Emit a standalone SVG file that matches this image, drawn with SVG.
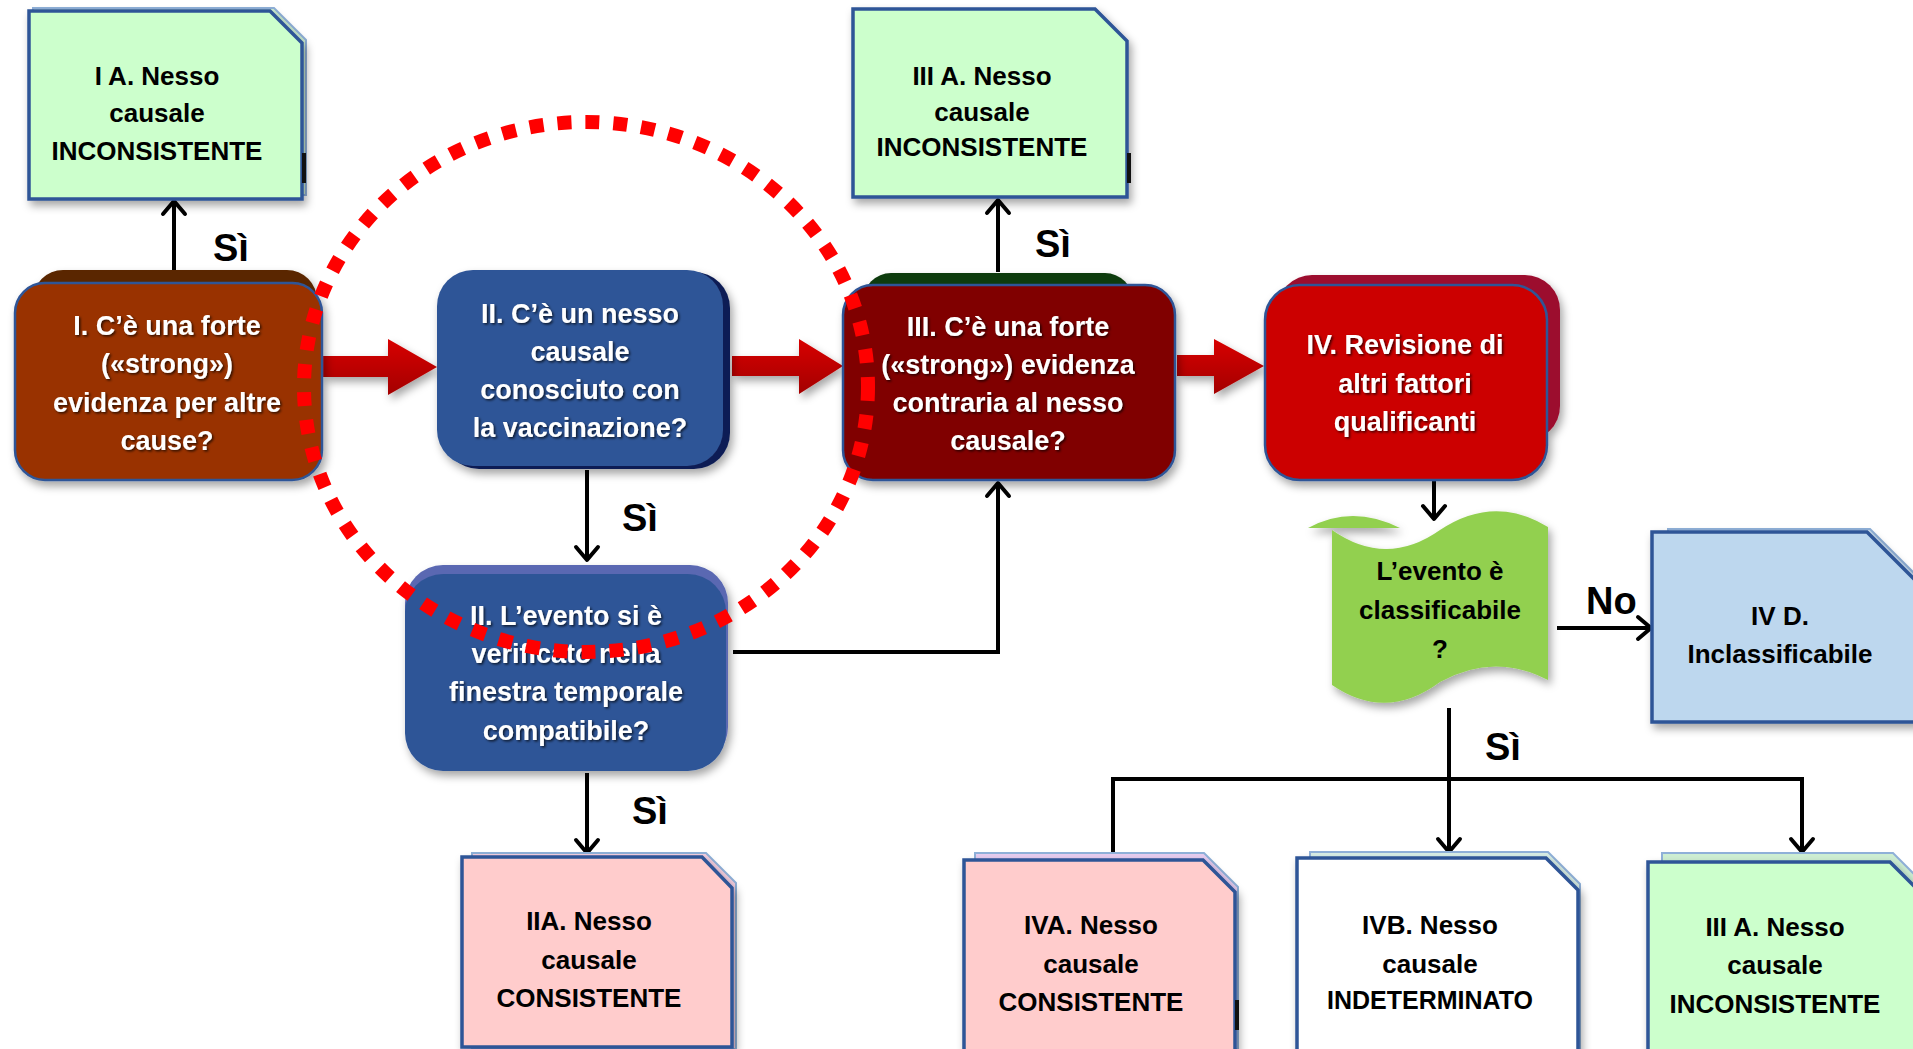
<svg xmlns="http://www.w3.org/2000/svg" width="1913" height="1049" viewBox="0 0 1913 1049">
<defs>
<filter id="sh" x="-10%" y="-10%" width="130%" height="130%"><feDropShadow dx="3" dy="5" stdDeviation="4" flood-color="#000" flood-opacity="0.35"/></filter>
<filter id="ts" x="-10%" y="-20%" width="120%" height="150%"><feDropShadow dx="1.5" dy="1.5" stdDeviation="1" flood-color="#000" flood-opacity="0.7"/></filter>
<linearGradient id="rg" x1="0" y1="0" x2="0" y2="1"><stop offset="0" stop-color="#d80000"/><stop offset="1" stop-color="#a30000"/></linearGradient>
<marker id="ah" markerUnits="userSpaceOnUse" markerWidth="32" markerHeight="32" viewBox="-16 -16 20 32" refX="0" refY="0" orient="auto"><path d="M-13,-11 L0,0 L-13,11" fill="none" stroke="#000" stroke-width="4" stroke-linecap="round" stroke-linejoin="round"/></marker>
</defs>
<style>
.wt{font-family:"Liberation Sans",Arial,sans-serif;font-weight:bold;font-size:27px;fill:#fff;text-anchor:middle}
.bt{font-family:"Liberation Sans",Arial,sans-serif;font-weight:bold;font-size:26px;fill:#000;text-anchor:middle}
.lbl{font-family:"Liberation Sans",Arial,sans-serif;font-weight:bold;font-size:38px;fill:#000}
.ln{fill:none;stroke:#000;stroke-width:4}
.doc{stroke:#2f5597;stroke-width:3.5}
.docb{stroke:#8fb0d8;stroke-width:2}
.ra{fill:url(#rg)}
</style>
<rect width="1913" height="1049" fill="#fff"/>

<g id="connectors">
<path class="ra" filter="url(#sh)" d="M323,356 L388,356 L388,339 L437,367 L388,395 L388,377 L323,377 Z"/>
<path class="ra" filter="url(#sh)" d="M732,356 L799,356 L799,339 L843,366 L799,394 L799,376 L732,376 Z"/>
<path class="ra" filter="url(#sh)" d="M1177,355 L1214,355 L1214,339 L1264,366 L1214,394 L1214,376 L1177,376 Z"/>
<path class="ln" marker-end="url(#ah)" d="M174,270 V201"/>
<path class="ln" marker-end="url(#ah)" d="M998,272 V200"/>
<path class="ln" marker-end="url(#ah)" d="M587,470 V560"/>
<path class="ln" marker-end="url(#ah)" d="M587,773 V853"/>
<path class="ln" marker-end="url(#ah)" d="M733,652 H998 V483"/>
<path class="ln" marker-end="url(#ah)" d="M1434,481 V519"/>
<path class="ln" marker-end="url(#ah)" d="M1557,628 H1651"/>
<path class="ln" marker-end="url(#ah)" d="M1449,708 V852"/>
<path class="ln" marker-end="url(#ah)" d="M1113,852 V779 H1802 V852"/>
<text class="lbl" x="213" y="261">Sì</text>
<text class="lbl" x="1035" y="257">Sì</text>
<text class="lbl" x="622" y="531">Sì</text>
<text class="lbl" x="632" y="824">Sì</text>
<text class="lbl" x="1485" y="760">Sì</text>
<text class="lbl" x="1586" y="614">No</text>
</g>

<g id="n-IA">
<path class="docb" fill="#cdeed2" d="M33,8 H274 L306,40 V195 H33 Z"/>
<path class="doc" fill="#ccffcc" filter="url(#sh)" d="M29,11 H270 L302,43 V199 H29 Z"/>
<rect x="302" y="153" width="4" height="30" fill="#111"/>
<text class="bt" x="157"><tspan x="157" y="85">I A. Nesso</tspan><tspan x="157" y="122">causale</tspan><tspan x="157" y="160">INCONSISTENTE</tspan></text>
</g>

<g id="n-IIIA-top">
<path class="doc" fill="#ccffcc" filter="url(#sh)" d="M853,9 H1095 L1127,41 V197 H853 Z"/>
<rect x="1127" y="153" width="4" height="30" fill="#111"/>
<text class="bt" x="982"><tspan x="982" y="85">III A. Nesso</tspan><tspan x="982" y="121">causale</tspan><tspan x="982" y="156">INCONSISTENTE</tspan></text>
</g>

<g id="n-I">
<g filter="url(#sh)">
<rect x="33" y="270" width="284" height="190" rx="30" fill="#5a2800"/>
<rect x="15" y="283" width="307" height="197" rx="30" fill="#993300" stroke="#2f5597" stroke-width="2.5"/>
</g>
<text class="wt" filter="url(#ts)"><tspan x="167" y="335">I. C’è una forte</tspan><tspan x="167" y="373">(«strong»)</tspan><tspan x="167" y="412">evidenza per altre</tspan><tspan x="167" y="450">cause?</tspan></text>
</g>

<g id="n-II">
<g filter="url(#sh)">
<rect x="443" y="272" width="287" height="197" rx="36" fill="#111f55"/>
<rect x="437" y="270" width="286" height="196" rx="36" fill="#2f5597"/>
</g>
<text class="wt" filter="url(#ts)"><tspan x="580" y="323">II. C’è un nesso</tspan><tspan x="580" y="361">causale</tspan><tspan x="580" y="399">conosciuto con</tspan><tspan x="580" y="437">la vaccinazione?</tspan></text>
</g>

<g id="n-IIb">
<g filter="url(#sh)">
<rect x="405" y="565" width="323" height="200" rx="38" fill="#5a68b2"/>
<rect x="405" y="574" width="321" height="197" rx="38" fill="#2f5597"/>
</g>
<text class="wt" filter="url(#ts)"><tspan x="566" y="625">II. L’evento si è</tspan><tspan x="566" y="663">verificato nella</tspan><tspan x="566" y="701">finestra temporale</tspan><tspan x="566" y="740">compatibile?</tspan></text>
</g>

<g id="n-III">
<g filter="url(#sh)">
<rect x="863" y="273" width="270" height="180" rx="28" fill="#0c3a0c"/>
<rect x="843" y="285" width="332" height="195" rx="30" fill="#800000" stroke="#2f5597" stroke-width="2.5"/>
</g>
<text class="wt" filter="url(#ts)"><tspan x="1008" y="336">III. C’è una forte</tspan><tspan x="1008" y="374">(«strong») evidenza</tspan><tspan x="1008" y="412">contraria al nesso</tspan><tspan x="1008" y="450">causale?</tspan></text>
</g>

<g id="n-IV">
<g filter="url(#sh)">
<rect x="1277" y="275" width="283" height="166" rx="35" fill="#9c0d2e"/>
<rect x="1265" y="285" width="282" height="195" rx="35" fill="#cc0000" stroke="#2f5597" stroke-width="2.5"/>
</g>
<text class="wt" filter="url(#ts)"><tspan x="1405" y="354">IV. Revisione di</tspan><tspan x="1405" y="393">altri fattori</tspan><tspan x="1405" y="431">qualificanti</tspan></text>
</g>

<g id="n-class">
<g filter="url(#sh)">
<path fill="#92d050" d="M1308,528 Q1352,504 1400,528 Z"/>
<path fill="#92d050" d="M1332,530 Q1386,568 1440,530 Q1494,494 1548,527 L1548,680 Q1494,652 1440,682 Q1386,722 1332,685 Z"/>
</g>
<text class="bt"><tspan x="1440" y="580">L’evento è</tspan><tspan x="1440" y="619">classificabile</tspan><tspan x="1440" y="658">?</tspan></text>
</g>

<g id="n-IVD">
<path class="docb" fill="#c9def0" d="M1668,529 H1870 L1920,579 V715 H1668 Z"/>
<path class="doc" fill="#bdd7ee" filter="url(#sh)" d="M1652,532 H1867 L1917,582 V722 H1652 Z"/>
<text class="bt"><tspan x="1780" y="625">IV D.</tspan><tspan x="1780" y="663">Inclassificabile</tspan></text>
</g>

<g id="n-IIA">
<path class="docb" fill="#f6cfe0" d="M472,853 H706 L736,883 V1049 H472 Z"/>
<path class="doc" fill="#ffcccc" filter="url(#sh)" d="M462,857 H702 L732,888 V1047 H462 Z"/>
<text class="bt"><tspan x="589" y="930">IIA. Nesso</tspan><tspan x="589" y="969">causale</tspan><tspan x="589" y="1007">CONSISTENTE</tspan></text>
</g>

<g id="n-IVA">
<path class="docb" fill="#e6ccf0" d="M975,853 H1204 L1238,887 V1049 H975 Z"/>
<path class="doc" fill="#ffcccc" filter="url(#sh)" d="M964,860 H1203 L1235,892 V1052 H964 Z"/>
<rect x="1235" y="1000" width="4" height="30" fill="#111"/>
<text class="bt"><tspan x="1091" y="934">IVA. Nesso</tspan><tspan x="1091" y="973">causale</tspan><tspan x="1091" y="1011">CONSISTENTE</tspan></text>
</g>

<g id="n-IVB">
<path class="docb" fill="#d8eee6" d="M1310,852 H1548 L1580,884 V1049 H1310 Z"/>
<path class="doc" fill="#ffffff" filter="url(#sh)" d="M1297,858 H1546 L1578,890 V1052 H1297 Z"/>
<text class="bt"><tspan x="1430" y="934">IVB. Nesso</tspan><tspan x="1430" y="973">causale</tspan><tspan x="1430" y="1009" style="font-size:25px">INDETERMINATO</tspan></text>
</g>

<g id="n-IIIA-bottom">
<path class="docb" fill="#cdeed2" d="M1662,853 H1893 L1925,885 V1049 H1662 Z"/>
<path class="doc" fill="#ccffcc" filter="url(#sh)" d="M1648,862 H1890 L1922,894 V1052 H1648 Z"/>
<text class="bt"><tspan x="1775" y="936">III A. Nesso</tspan><tspan x="1775" y="974">causale</tspan><tspan x="1775" y="1013">INCONSISTENTE</tspan></text>
</g>

<g id="highlight">
<ellipse cx="586" cy="387" rx="282" ry="265" fill="none" stroke="#ff0000" stroke-width="14" stroke-dasharray="14 14"/>
</g>
</svg>
